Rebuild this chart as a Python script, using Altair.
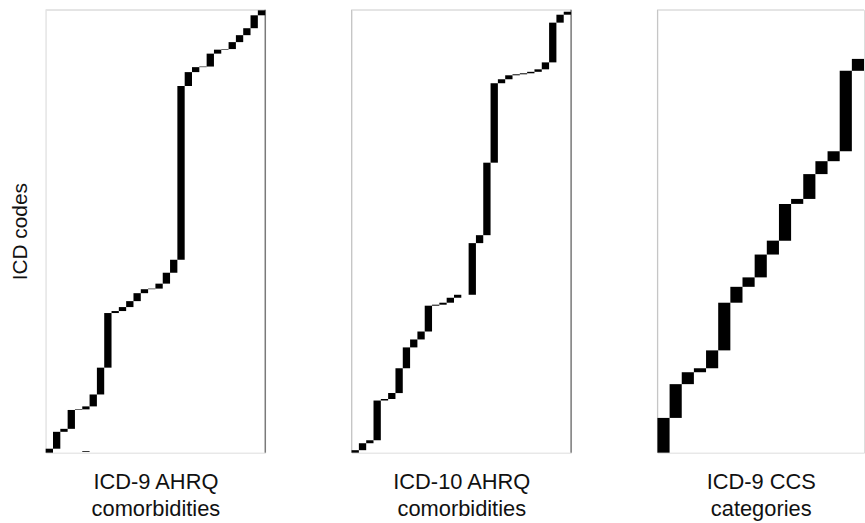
import altair as alt
import pandas as pd
import numpy as np

# Number of ICD codes (relative units) mapped to each category column,
# listed from the bottom-left cell upward/rightward.
ahrq9_counts = [4, 17, 3, 19, 0.6, 3, 12, 27, 55, 2, 4, 6, 8, 4, 0.6,
                5, 11, 13, 175, 14, 5, 0.6, 13, 4, 0.6, 7, 7, 7, 13, 5]
ahrq10_counts = [2.5, 7, 3, 40, 1.5, 6, 25, 21, 8, 8, 26, 1, 2, 5, 3,
                 0, 52, 8, 73, 80, 4, 4, 1, 1, 1.5, 2.5, 7, 40, 8, 3]
ccs9_counts = [35, 34, 12, 4, 18, 48, 16, 9.5, 23, 14, 37, 5, 25, 13, 10, 81, 12]

# a stray isolated cell in the first panel
ahrq9_stray_col = [5]
ahrq9_stray_lo = [0.9]
ahrq9_stray_hi = [1.7]

panel_titles = [["ICD-9 AHRQ", "comorbidities"],
                ["ICD-10 AHRQ", "comorbidities"],
                ["ICD-9 CCS", "categories"]]
y_title = "ICD codes"

H = 446
FONT = "Liberation Sans"


def cells(counts, extra_col=None, extra_lo=None, extra_hi=None):
    c = np.array(counts, dtype=float)
    hi = np.cumsum(c)
    lo = hi - c
    df = pd.DataFrame({"col": np.arange(len(c)), "lo": lo, "hi": hi})
    df = df[c > 0]
    if extra_col:
        df = pd.concat([df, pd.DataFrame({"col": extra_col, "lo": extra_lo, "hi": extra_hi})])
    df["col2"] = df["col"] + 1
    return df


def panel(df, ncols, width, title, left_color, right_color=None, ytitle=None):
    xs = alt.Scale(domain=[0, ncols], nice=False, zero=False)
    ys = alt.Scale(domain=[0, H], nice=False, zero=False)
    xaxis = alt.Axis(title=title, labels=False, ticks=False, domain=False, grid=False,
                     titleFontSize=22, titleFont=FONT, titleFontWeight="normal",
                     titleColor="#111111", titlePadding=19, titleLineHeight=27)
    if ytitle:
        yaxis = alt.Axis(title=ytitle, labels=False, ticks=False, domain=False, grid=False,
                         titleFontSize=21, titleFont=FONT, titleFontWeight="normal",
                         titleColor="#111111", titlePadding=15)
    else:
        yaxis = None
    one = pd.DataFrame({"k": [0]})
    top = alt.Chart(one).mark_rule(color="#e0e0e0", strokeWidth=1).encode(
        x=alt.value(0), x2=alt.value(width), y=alt.value(0))
    left = alt.Chart(one).mark_rule(color=left_color, strokeWidth=1).encode(
        x=alt.value(0), y=alt.value(0), y2=alt.value(H))
    layers = [top, left]
    if right_color:
        layers.append(alt.Chart(one).mark_rule(color=right_color, strokeWidth=1).encode(
            x=alt.value(width), y=alt.value(0), y2=alt.value(H)))
    rects = alt.Chart(df).mark_rect(color="black").encode(
        x=alt.X("col:Q", scale=xs, axis=xaxis),
        x2="col2:Q",
        y=alt.Y("lo:Q", scale=ys, axis=yaxis),
        y2="hi:Q",
    )
    layers.append(rects)
    return alt.layer(*layers).properties(width=width, height=H)


p1 = panel(cells(ahrq9_counts, ahrq9_stray_col, ahrq9_stray_lo, ahrq9_stray_hi),
           len(ahrq9_counts), 221, panel_titles[0], "#ececec", "#444444", ytitle=y_title)
p2 = panel(cells(ahrq10_counts), len(ahrq10_counts), 221, panel_titles[1], "#c4c4c4", "#444444")
p3 = panel(cells(ccs9_counts), len(ccs9_counts), 208, panel_titles[2], "#c4c4c4")

chart = alt.hconcat(p1, p2, p3, spacing=85).properties(
    padding={"left": 9, "top": 7, "right": 0, "bottom": 0}
).configure_view(stroke=None).configure(background="white")

chart.save("out.html", embed_options={"renderer": "svg", "actions": False})
